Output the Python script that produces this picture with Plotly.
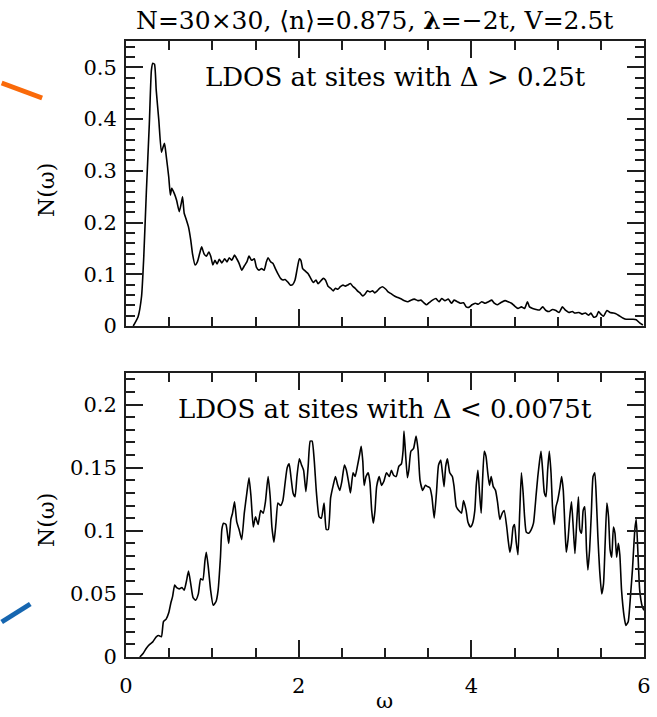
import plotly.graph_objects as go

# Upper panel: LDOS at sites with large gap (Delta > 0.25t)
omega_hi = [0.084, 0.14, 0.18, 0.206, 0.236, 0.27, 0.294, 0.31, 0.33, 0.35, 0.38, 0.41, 0.43, 0.446,
            0.465, 0.495, 0.514, 0.53, 0.56, 0.586, 0.617, 0.64, 0.655, 0.674, 0.694, 0.723, 0.75, 0.77,
            0.8, 0.827, 0.853, 0.876, 0.903, 0.93, 0.96, 0.983, 1.006, 1.03, 1.055, 1.08, 1.11, 1.143,
            1.17, 1.196, 1.226, 1.257, 1.283, 1.31, 1.34, 1.37, 1.4, 1.425, 1.455, 1.486, 1.51, 1.54,
            1.57, 1.6, 1.626, 1.646, 1.676, 1.703, 1.73, 1.76, 1.79, 1.817, 1.843, 1.874, 1.905, 1.93,
            1.958, 1.98, 2.008, 2.026, 2.046, 2.065, 2.084, 2.11, 2.14, 2.17, 2.2, 2.225, 2.255, 2.286,
            2.31, 2.34, 2.37, 2.4, 2.426, 2.453, 2.483, 2.514, 2.54, 2.566, 2.6, 2.63, 2.654, 2.68,
            2.71, 2.743, 2.77, 2.796, 2.826, 2.857, 2.88, 2.91, 2.94, 2.97, 3.01, 3.036, 3.074, 3.11,
            3.15, 3.19, 3.226, 3.265, 3.3, 3.34, 3.38, 3.417, 3.455, 3.48, 3.51, 3.55, 3.59, 3.626,
            3.657, 3.695, 3.733, 3.77, 3.8, 3.837, 3.874, 3.91, 3.94, 3.97, 4.008, 4.046, 4.08, 4.12,
            4.16, 4.2, 4.236, 4.266, 4.3, 4.34, 4.39, 4.426, 4.465, 4.5, 4.54, 4.58, 4.617, 4.65,
            4.674, 4.71, 4.75, 4.79, 4.826, 4.865, 4.903, 4.94, 4.98, 5.017, 5.055, 5.094, 5.13, 5.17,
            5.2, 5.246, 5.283, 5.32, 5.36, 5.386, 5.417, 5.45, 5.474, 5.5, 5.531, 5.57, 5.607, 5.646,
            5.683, 5.72, 5.76, 5.794, 5.83, 5.874, 5.91, 5.95, 5.987]
ldos_hi = [0.0, 0.018, 0.057, 0.134, 0.26, 0.39, 0.494, 0.508, 0.506, 0.456, 0.398, 0.336, 0.346, 0.353,
           0.33, 0.288, 0.253, 0.266, 0.256, 0.243, 0.221, 0.237, 0.25, 0.218, 0.208, 0.192, 0.166, 0.14,
           0.118, 0.124, 0.14, 0.153, 0.14, 0.135, 0.143, 0.134, 0.118, 0.127, 0.12, 0.129, 0.122, 0.13,
           0.124, 0.132, 0.127, 0.137, 0.13, 0.121, 0.108, 0.116, 0.124, 0.135, 0.127, 0.13, 0.114, 0.108,
           0.111, 0.108, 0.124, 0.132, 0.124, 0.121, 0.111, 0.101, 0.092, 0.089, 0.09, 0.085, 0.079, 0.08,
           0.089, 0.108, 0.13, 0.127, 0.111, 0.108, 0.105, 0.101, 0.092, 0.084, 0.089, 0.082, 0.087, 0.092,
           0.089, 0.077, 0.073, 0.068, 0.073, 0.071, 0.076, 0.079, 0.077, 0.079, 0.082, 0.076, 0.073, 0.068,
           0.064, 0.058, 0.062, 0.068, 0.066, 0.068, 0.064, 0.068, 0.073, 0.076, 0.071, 0.066, 0.062, 0.058,
           0.055, 0.052, 0.049, 0.047, 0.05, 0.052, 0.049, 0.05, 0.044, 0.041, 0.045, 0.05, 0.053, 0.047,
           0.053, 0.049, 0.052, 0.044, 0.05, 0.047, 0.044, 0.045, 0.037, 0.036, 0.041, 0.044, 0.042, 0.047,
           0.044, 0.047, 0.05, 0.044, 0.041, 0.045, 0.049, 0.047, 0.044, 0.039, 0.034, 0.037, 0.034, 0.047,
           0.037, 0.034, 0.032, 0.031, 0.037, 0.03, 0.028, 0.032, 0.03, 0.026, 0.037, 0.03, 0.026, 0.028,
           0.025, 0.026, 0.023, 0.025, 0.021, 0.025, 0.017, 0.019, 0.028, 0.023, 0.019, 0.03, 0.026, 0.025,
           0.023, 0.019, 0.015, 0.013, 0.013, 0.013, 0.012, 0.006, 0.002]

# Lower panel: LDOS at sites with vanishing gap (Delta < 0.0075t)
omega_lo = [0.16, 0.2, 0.236, 0.274, 0.31, 0.35, 0.38, 0.41, 0.434, 0.465, 0.495, 0.52, 0.54, 0.564,
            0.587, 0.617, 0.648, 0.674, 0.7, 0.724, 0.75, 0.777, 0.807, 0.838, 0.865, 0.89, 0.914, 0.93,
            0.952, 0.98, 1.01, 1.043, 1.067, 1.094, 1.11, 1.13, 1.158, 1.19, 1.215, 1.234, 1.257, 1.283,
            1.31, 1.34, 1.37, 1.4, 1.425, 1.448, 1.474, 1.5, 1.53, 1.56, 1.589, 1.615, 1.646, 1.67,
            1.69, 1.714, 1.737, 1.76, 1.79, 1.817, 1.843, 1.867, 1.89, 1.91, 1.935, 1.958, 1.98, 2.008,
            2.034, 2.057, 2.084, 2.11, 2.134, 2.156, 2.18, 2.206, 2.237, 2.263, 2.294, 2.32, 2.343, 2.37,
            2.4, 2.426, 2.453, 2.476, 2.5, 2.53, 2.553, 2.58, 2.6, 2.63, 2.654, 2.68, 2.705, 2.724,
            2.743, 2.758, 2.78, 2.806, 2.826, 2.846, 2.865, 2.884, 2.903, 2.933, 2.96, 2.986, 3.017, 3.05,
            3.074, 3.1, 3.13, 3.16, 3.19, 3.21, 3.22, 3.24, 3.26, 3.276, 3.3, 3.33, 3.36, 3.383,
            3.406, 3.437, 3.467, 3.494, 3.52, 3.543, 3.57, 3.596, 3.62, 3.646, 3.665, 3.684, 3.703, 3.723,
            3.75, 3.78, 3.8, 3.826, 3.855, 3.886, 3.91, 3.94, 3.96, 3.99, 4.015, 4.04, 4.057, 4.076,
            4.095, 4.114, 4.13, 4.15, 4.17, 4.19, 4.21, 4.23, 4.254, 4.28, 4.305, 4.33, 4.358, 4.38,
            4.41, 4.426, 4.446, 4.465, 4.484, 4.5, 4.52, 4.54, 4.56, 4.58, 4.6, 4.617, 4.636, 4.663,
            4.694, 4.72, 4.75, 4.77, 4.79, 4.807, 4.826, 4.846, 4.865, 4.884, 4.903, 4.923, 4.94, 4.96,
            4.98, 5.0, 5.026, 5.046, 5.065, 5.085, 5.1, 5.12, 5.14, 5.16, 5.18, 5.2, 5.22, 5.24,
            5.257, 5.277, 5.295, 5.314, 5.334, 5.35, 5.37, 5.39, 5.41, 5.43, 5.45, 5.466, 5.486, 5.51,
            5.531, 5.55, 5.57, 5.589, 5.607, 5.626, 5.646, 5.664, 5.683, 5.703, 5.72, 5.74, 5.77, 5.79,
            5.817, 5.843, 5.866, 5.894, 5.91, 5.93, 5.95, 5.98, 6.0]
ldos_lo = [0.0, 0.003, 0.007, 0.010, 0.012, 0.016, 0.017, 0.016, 0.028, 0.030, 0.035, 0.043, 0.048, 0.057,
           0.055, 0.054, 0.055, 0.053, 0.060, 0.068, 0.058, 0.047, 0.045, 0.050, 0.062, 0.061, 0.076, 0.083,
           0.072, 0.053, 0.041, 0.044, 0.053, 0.079, 0.101, 0.106, 0.105, 0.090, 0.109, 0.114, 0.123, 0.107,
           0.101, 0.093, 0.114, 0.130, 0.142, 0.127, 0.103, 0.111, 0.105, 0.116, 0.114, 0.123, 0.143, 0.127,
           0.103, 0.091, 0.106, 0.122, 0.120, 0.124, 0.138, 0.150, 0.153, 0.143, 0.130, 0.127, 0.143, 0.157,
           0.152, 0.148, 0.131, 0.151, 0.171, 0.171, 0.156, 0.130, 0.111, 0.110, 0.122, 0.101, 0.101, 0.126,
           0.136, 0.143, 0.136, 0.132, 0.139, 0.152, 0.148, 0.138, 0.130, 0.146, 0.143, 0.151, 0.160, 0.167,
           0.155, 0.136, 0.143, 0.146, 0.138, 0.116, 0.106, 0.116, 0.135, 0.143, 0.136, 0.139, 0.146, 0.143,
           0.148, 0.144, 0.143, 0.151, 0.153, 0.164, 0.179, 0.159, 0.142, 0.148, 0.163, 0.165, 0.175, 0.164,
           0.140, 0.132, 0.136, 0.135, 0.134, 0.127, 0.110, 0.130, 0.152, 0.156, 0.146, 0.135, 0.151, 0.157,
           0.146, 0.143, 0.135, 0.119, 0.116, 0.114, 0.124, 0.116, 0.107, 0.103, 0.106, 0.116, 0.136, 0.148,
           0.130, 0.114, 0.140, 0.163, 0.159, 0.146, 0.136, 0.143, 0.135, 0.132, 0.122, 0.109, 0.114, 0.116,
           0.103, 0.093, 0.083, 0.090, 0.103, 0.105, 0.091, 0.081, 0.114, 0.146, 0.130, 0.111, 0.099, 0.098,
           0.101, 0.106, 0.128, 0.143, 0.155, 0.163, 0.148, 0.130, 0.127, 0.148, 0.163, 0.146, 0.119, 0.105,
           0.119, 0.124, 0.134, 0.143, 0.132, 0.101, 0.083, 0.093, 0.111, 0.123, 0.103, 0.082, 0.106, 0.127,
           0.101, 0.098, 0.116, 0.119, 0.085, 0.069, 0.085, 0.114, 0.143, 0.146, 0.122, 0.095, 0.069, 0.050,
           0.058, 0.090, 0.122, 0.111, 0.085, 0.079, 0.103, 0.098, 0.079, 0.090, 0.081, 0.053, 0.032, 0.025,
           0.028, 0.048, 0.069, 0.101, 0.109, 0.082, 0.053, 0.040, 0.037]

x_ticks = [0, 2, 4, 6]
y_ticks_hi = [0, 0.1, 0.2, 0.3, 0.4, 0.5]
y_ticks_lo = [0, 0.05, 0.1, 0.15, 0.2]
x_range = [0, 6]
y_range_hi = [0, 0.551]
y_range_lo = [0, 0.225]

SERIF = "DejaVu Serif"
INK = "#1e1e1e"
W, H = 657, 717
L, R, T, B = 126, 6, 41, 60
PH = H - T - B
PW = W - L - R


def py(ypix):
    """Pixel row -> paper y."""
    return (H - B - ypix) / PH


def px(xpix):
    """Pixel column -> paper x."""
    return (xpix - L) / PW


def minor(step):
    return dict(dtick=step, ticks="inside", ticklen=9, tickcolor=INK, tickwidth=1.5)


tick_style = dict(ticks="inside", tickcolor=INK, tickwidth=1.5, ticklen=17,
                  showgrid=False, zeroline=False,
                  tickfont=dict(family=SERIF, size=21, color="black"))
frame = dict(showline=True, linecolor=INK, linewidth=2, mirror=True)
# tick-only twin axes on the opposite sides of each frame
twin = dict(showline=False, showticklabels=False, **tick_style)

fig = go.Figure()
curve = dict(color="black", width=1.6, shape="spline", smoothing=0.5)
fig.add_trace(go.Scatter(x=omega_hi, y=ldos_hi, mode="lines", xaxis="x", yaxis="y",
                         line=curve, showlegend=False, hoverinfo="skip"))
fig.add_trace(go.Scatter(x=omega_lo, y=ldos_lo, mode="lines", xaxis="x2", yaxis="y2",
                         line=curve, showlegend=False, hoverinfo="skip"))
# invisible carriers so the twin axes are drawn
for xa, ya in (("x3", "y3"), ("x4", "y4")):
    fig.add_trace(go.Scatter(x=[None], y=[None], xaxis=xa, yaxis=ya, mode="lines",
                             showlegend=False, hoverinfo="skip"))

top_dom = [py(326), 1]
bot_dom = [0, py(373)]

fig.update_layout(
    width=W, height=H,
    margin=dict(l=L, r=R, t=T, b=B),
    plot_bgcolor="white", paper_bgcolor="white",
    xaxis=dict(domain=[0, 1], range=x_range, anchor="y", tickvals=x_ticks, showticklabels=False,
               minor=minor(0.5), **frame, **tick_style),
    yaxis=dict(domain=top_dom, range=y_range_hi, anchor="x", tickvals=y_ticks_hi,
               ticktext=["0", "0.1", "0.2", "0.3", "0.4", "0.5"], ticklabelstandoff=3,
               minor=minor(0.02), **frame, **tick_style),
    xaxis2=dict(domain=[0, 1], range=x_range, anchor="y2", tickvals=x_ticks, ticklabelstandoff=9,
                minor=minor(0.5), **frame, **tick_style),
    yaxis2=dict(domain=bot_dom, range=y_range_lo, anchor="x2", tickvals=y_ticks_lo,
                ticktext=["0", "0.05", "0.1", "0.15", "0.2"], ticklabelstandoff=3,
                minor=minor(0.01), **frame, **tick_style),
    xaxis3=dict(domain=[0, 1], range=x_range, anchor="y3", side="top", overlaying="x",
                tickvals=x_ticks, minor=minor(0.5), **twin),
    yaxis3=dict(domain=top_dom, range=y_range_hi, anchor="x3", side="right", overlaying="y",
                tickvals=y_ticks_hi, minor=minor(0.02), **twin),
    xaxis4=dict(domain=[0, 1], range=x_range, anchor="y4", side="top", overlaying="x2",
                tickvals=x_ticks, minor=minor(0.5), **twin),
    yaxis4=dict(domain=bot_dom, range=y_range_lo, anchor="x4", side="right", overlaying="y2",
                tickvals=y_ticks_lo, minor=minor(0.01), **twin),
)

annots = [
    dict(text="N=30×30, ⟨n⟩=0.875, <b>λ</b>=−2t, V=2.5t", x=px(378), y=py(21), size=25),
    dict(text="LDOS at sites with Δ > 0.25t", x=px(399), y=py(77), size=26),
    dict(text="LDOS at sites with Δ < 0.0075t", x=px(389), y=py(409), size=26),
    dict(text="ω", x=px(388), y=py(701), size=21),
]
for a in annots:
    fig.add_annotation(text=a["text"], x=a["x"], y=a["y"], xref="paper", yref="paper",
                       xanchor="center", yanchor="middle", showarrow=False,
                       font=dict(family=SERIF, size=a["size"], color="black"))

for ycen in (190, 520):
    fig.add_annotation(text="N(ω)", x=px(45), y=py(ycen), xref="paper", yref="paper",
                       xanchor="center", yanchor="middle", showarrow=False, textangle=-90,
                       font=dict(family=SERIF, size=22, color="black"))

# Pointer strokes at the left margin
fig.add_shape(type="line", xref="paper", yref="paper",
              x0=px(0), y0=py(83), x1=px(41), y1=py(98),
              line=dict(color="#FA6A0A", width=5))
fig.add_shape(type="line", xref="paper", yref="paper",
              x0=px(0), y0=py(622), x1=px(29), y1=py(604),
              line=dict(color="#1666B0", width=5))

fig.write_html("out.html")
